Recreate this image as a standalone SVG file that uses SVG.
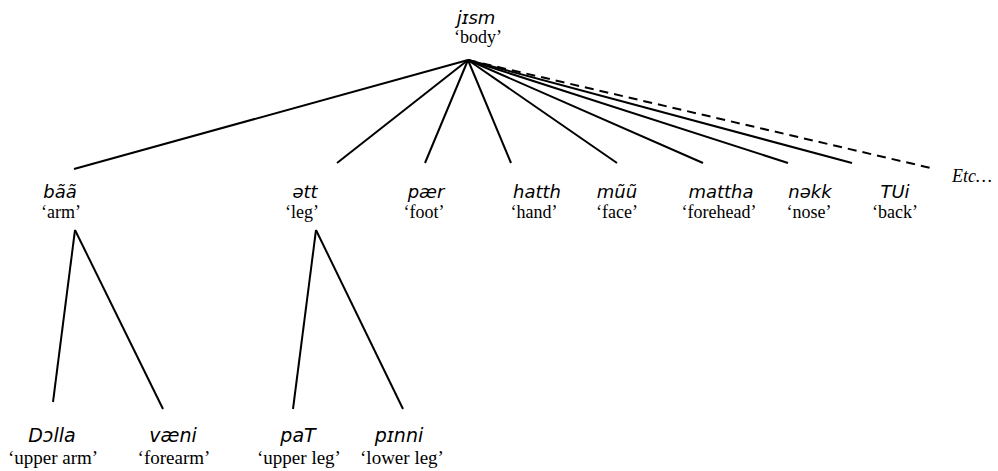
<svg xmlns="http://www.w3.org/2000/svg" width="998" height="471" viewBox="0 0 998 471">
<style>
.w{font-family:"DejaVu Sans","Noto Sans",sans-serif;font-style:italic;font-size:18px;text-anchor:middle;fill:#000}
.g{font-family:"Liberation Serif","Times New Roman",serif;font-size:18px;text-anchor:middle;fill:#000}
.b .w{font-size:19px}
.b .g{font-size:19px}
.e{font-family:"Liberation Serif","Times New Roman",serif;font-style:italic;font-size:18px;fill:#000}
.l{stroke:#000;stroke-width:2;fill:none}
.d{stroke:#000;stroke-width:2;fill:none;stroke-dasharray:9,6}
</style>
<rect width="998" height="471" fill="#fff"/>
<g id="connectors">
<line class="l" x1="468" y1="60" x2="74" y2="169"/>
<line class="l" x1="468" y1="60" x2="337" y2="163"/>
<line class="l" x1="468" y1="60" x2="425" y2="163"/>
<line class="l" x1="468" y1="60" x2="511" y2="163"/>
<line class="l" x1="468" y1="60" x2="617" y2="163"/>
<line class="l" x1="468" y1="60" x2="703" y2="163"/>
<line class="l" x1="468" y1="60" x2="788" y2="163"/>
<line class="l" x1="468" y1="60" x2="852" y2="163"/>
<line class="d" x1="468" y1="60" x2="935" y2="169"/>
<line class="l" x1="75" y1="230" x2="53" y2="402"/>
<line class="l" x1="75" y1="230" x2="163" y2="409"/>
<line class="l" x1="316" y1="230" x2="293" y2="409"/>
<line class="l" x1="316" y1="230" x2="403" y2="409"/>
</g>
<g id="jism"><text class="w" x="476" y="24">jɪsm</text><text class="g" x="478" y="43">‘body’</text></g>
<g id="baa"><text class="w" x="60" y="198">bãã</text><text class="g" x="61" y="218">‘arm’</text></g>
<g id="ett"><text class="w" x="305" y="198">ətt</text><text class="g" x="302" y="218">‘leg’</text></g>
<g id="paer"><text class="w" x="426" y="198">pær</text><text class="g" x="424" y="218">‘foot’</text></g>
<g id="hatth"><text class="w" x="537" y="198">hatth</text><text class="g" x="534" y="218">‘hand’</text></g>
<g id="muu"><text class="w" x="617" y="198">mũũ</text><text class="g" x="617" y="218">‘face’</text></g>
<g id="mattha"><text class="w" x="721" y="198">mattha</text><text class="g" x="719" y="218">‘forehead’</text></g>
<g id="nekk"><text class="w" x="810" y="198">nəkk</text><text class="g" x="809" y="218">‘nose’</text></g>
<g id="tui"><text class="w" x="895" y="198">TUi</text><text class="g" x="895" y="218">‘back’</text></g>
<g id="etc"><text class="e" x="952" y="182">Etc…</text></g>
<g class="b">
<g id="dolla"><text class="w" x="52" y="442">Dɔlla</text><text class="g" x="53" y="464">‘upper arm’</text></g>
<g id="vaeni"><text class="w" x="173" y="442">væni</text><text class="g" x="174" y="464">‘forearm’</text></g>
<g id="pat"><text class="w" x="298" y="442">paT</text><text class="g" x="299" y="464">‘upper leg’</text></g>
<g id="pinni"><text class="w" x="399" y="442">pɪnni</text><text class="g" x="402" y="464">‘lower leg’</text></g>
</g>
</svg>
